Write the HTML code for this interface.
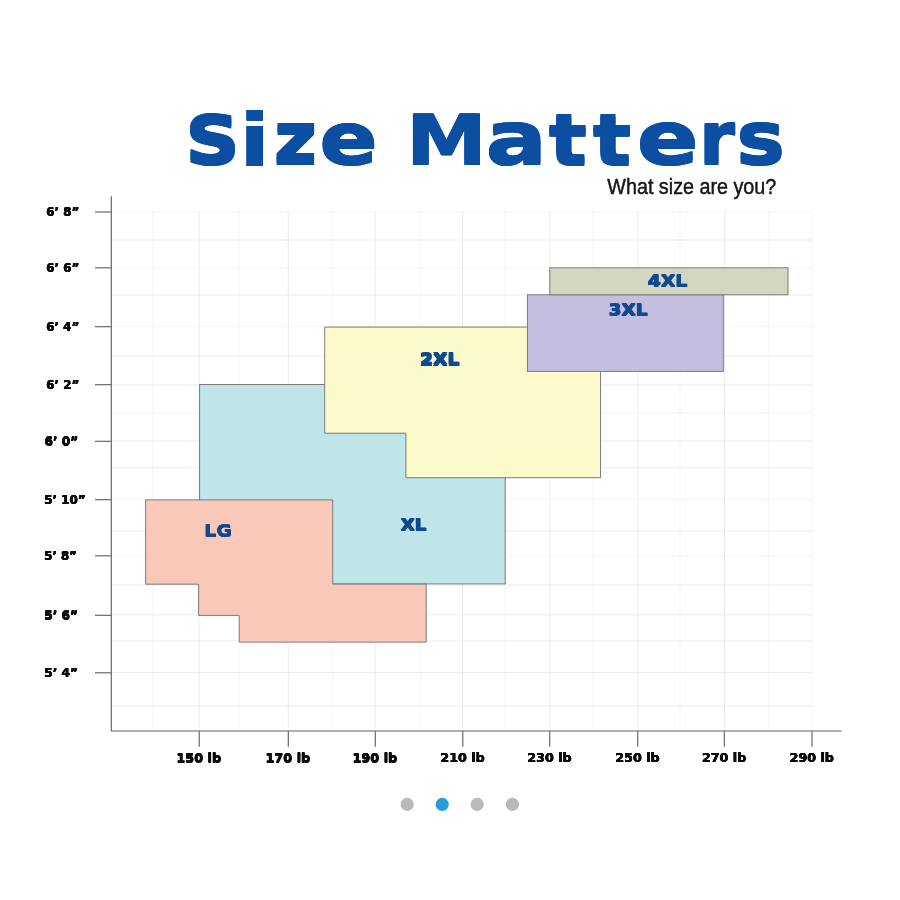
<!DOCTYPE html>
<html lang="en"><head><meta charset="utf-8"><title>Size Matters</title>
<style>
html,body{margin:0;padding:0;background:#fff}
body{width:900px;height:900px;overflow:hidden}
svg{display:block}
text{white-space:pre}
</style></head><body>
<svg width="900" height="900" viewBox="0 0 900 900">
<rect width="900" height="900" fill="#ffffff"/>
<text id="title" font-family='"DejaVu Sans", "Liberation Sans", sans-serif' font-weight="bold" fill="#0b4ea2"><tspan x="185.01" y="163.37" font-size="65.84" textLength="55.09" lengthAdjust="spacingAndGlyphs" style="text-shadow:-0.43px -1.50px 0 #0b4ea2,-0.43px 1.50px 0 #0b4ea2,0.43px -1.50px 0 #0b4ea2,0.43px 1.50px 0 #0b4ea2">S</tspan><tspan x="239.36" y="165.59" font-size="73.55" textLength="30.79" lengthAdjust="spacingAndGlyphs" style="text-shadow:-0.33px -0.01px 0 #0b4ea2,-0.33px 0.01px 0 #0b4ea2,0.33px -0.01px 0 #0b4ea2,0.33px 0.01px 0 #0b4ea2">i</tspan><tspan x="273.85" y="163.40" font-size="70.40" textLength="43.42" lengthAdjust="spacingAndGlyphs" style="text-shadow:-0.47px -1.60px 0 #0b4ea2,-0.47px 1.60px 0 #0b4ea2,0.47px -1.60px 0 #0b4ea2,0.47px 1.60px 0 #0b4ea2">z</tspan><tspan x="319.29" y="163.68" font-size="71.92" textLength="58.59" lengthAdjust="spacingAndGlyphs" style="text-shadow:-0.42px -0.90px 0 #0b4ea2,-0.42px 0.90px 0 #0b4ea2,0.42px -0.90px 0 #0b4ea2,0.42px 0.90px 0 #0b4ea2">e</tspan> <tspan x="406.15" y="164.90" font-size="69.41" textLength="80.73" lengthAdjust="spacingAndGlyphs" style="text-shadow:-0.51px -0.50px 0 #0b4ea2,-0.51px 0.50px 0 #0b4ea2,0.51px -0.50px 0 #0b4ea2,0.51px 0.50px 0 #0b4ea2">M</tspan><tspan x="485.48" y="164.05" font-size="73.84" textLength="61.60" lengthAdjust="spacingAndGlyphs" style="text-shadow:-0.40px -0.90px 0 #0b4ea2,-0.40px 0.90px 0 #0b4ea2,0.40px -0.90px 0 #0b4ea2,0.40px 0.90px 0 #0b4ea2">a</tspan><tspan x="548.85" y="164.50" font-size="70.07" textLength="37.97" lengthAdjust="spacingAndGlyphs" style="text-shadow:-0.53px -1.50px 0 #0b4ea2,-0.53px 1.50px 0 #0b4ea2,0.53px -1.50px 0 #0b4ea2,0.53px 1.50px 0 #0b4ea2">t</tspan><tspan x="592.94" y="164.50" font-size="70.07" textLength="38.29" lengthAdjust="spacingAndGlyphs" style="text-shadow:-0.52px -1.50px 0 #0b4ea2,-0.52px 1.50px 0 #0b4ea2,0.52px -1.50px 0 #0b4ea2,0.52px 1.50px 0 #0b4ea2">t</tspan><tspan x="636.55" y="164.07" font-size="72.62" textLength="62.40" lengthAdjust="spacingAndGlyphs" style="text-shadow:-0.39px -0.90px 0 #0b4ea2,-0.39px 0.90px 0 #0b4ea2,0.39px -0.90px 0 #0b4ea2,0.39px 0.90px 0 #0b4ea2">e</tspan><tspan x="699.22" y="164.20" font-size="72.14" textLength="35.69" lengthAdjust="spacingAndGlyphs" style="text-shadow:-0.60px -1.30px 0 #0b4ea2,-0.60px 1.30px 0 #0b4ea2,0.60px -1.30px 0 #0b4ea2,0.60px 1.30px 0 #0b4ea2">r</tspan><tspan x="736.25" y="164.07" font-size="72.97" textLength="48.83" lengthAdjust="spacingAndGlyphs" style="text-shadow:-0.44px -0.90px 0 #0b4ea2,-0.44px 0.90px 0 #0b4ea2,0.44px -0.90px 0 #0b4ea2,0.44px 0.90px 0 #0b4ea2">s</tspan></text>
<text transform="matrix(0.1976 0 0 0.2194 607.31 193.90)" font-family='"Liberation Sans", sans-serif' font-weight="normal" font-size="100" fill="#161616" stroke="#161616" stroke-width="0.45" vector-effect="non-scaling-stroke">What size are you?</text>
<g stroke="#f4f4f4" stroke-width="1"><line x1="111.3" y1="212.0" x2="812" y2="212.0"/><line x1="111.3" y1="267.8" x2="812" y2="267.8"/><line x1="111.3" y1="326.7" x2="812" y2="326.7"/><line x1="111.3" y1="412.8" x2="812" y2="412.8"/><line x1="111.3" y1="499.5" x2="812" y2="499.5"/><line x1="111.3" y1="556.0" x2="812" y2="556.0"/><line x1="152.7" y1="211" x2="152.7" y2="728"/><line x1="239.0" y1="211" x2="239.0" y2="728"/><line x1="332.7" y1="211" x2="332.7" y2="728"/><line x1="421.0" y1="211" x2="421.0" y2="728"/><line x1="505.0" y1="211" x2="505.0" y2="728"/><line x1="593.0" y1="211" x2="593.0" y2="728"/><line x1="680.0" y1="211" x2="680.0" y2="728"/><line x1="768.3" y1="211" x2="768.3" y2="728"/><line x1="811.7" y1="211" x2="811.7" y2="728"/></g>
<g stroke="#ebebeb" stroke-width="1"><line x1="111.3" y1="240.0" x2="812" y2="240.0"/><line x1="111.3" y1="295.0" x2="812" y2="295.0"/><line x1="111.3" y1="356.0" x2="812" y2="356.0"/><line x1="111.3" y1="385.0" x2="812" y2="385.0"/><line x1="111.3" y1="441.0" x2="812" y2="441.0"/><line x1="111.3" y1="467.7" x2="812" y2="467.7"/><line x1="111.3" y1="531.0" x2="812" y2="531.0"/><line x1="111.3" y1="585.0" x2="812" y2="585.0"/><line x1="111.3" y1="614.8" x2="812" y2="614.8"/><line x1="111.3" y1="641.0" x2="812" y2="641.0"/><line x1="111.3" y1="672.6" x2="812" y2="672.6"/><line x1="111.3" y1="706.0" x2="812" y2="706.0"/><line x1="199.0" y1="211" x2="199.0" y2="728"/><line x1="288.3" y1="211" x2="288.3" y2="728"/><line x1="375.0" y1="211" x2="375.0" y2="728"/><line x1="462.7" y1="211" x2="462.7" y2="728"/><line x1="550.0" y1="211" x2="550.0" y2="728"/><line x1="638.0" y1="211" x2="638.0" y2="728"/><line x1="724.6" y1="211" x2="724.6" y2="728"/></g>
<rect x="199.6" y="384.5" width="305.6" height="199.4" fill="#bfe5e8" stroke="#767676" stroke-width="0.95"/>
<polygon points="324.7,327.1 600.5,327.1 600.5,477.7 405.9,477.7 405.9,433.2 324.7,433.2" fill="#fcf9ca" stroke="#767676" stroke-width="0.95"/>
<polygon points="145.6,499.9 332.7,499.9 332.7,584.1 426.2,584.1 426.2,642.1 239.2,642.1 239.2,615.4 198.6,615.4 198.6,584.2 145.6,584.2" fill="#f9c8b9" stroke="#767676" stroke-width="0.95"/>
<rect x="527.4" y="294.8" width="195.9" height="76.6" fill="#c3bfe0" stroke="#767676" stroke-width="0.95"/>
<rect x="549.8" y="267.8" width="238.2" height="27.0" fill="#d3d6c0" stroke="#767676" stroke-width="0.95"/>
<text transform="matrix(0.1896 0 0 0.1600 204.26 536.27)" font-family='"DejaVu Sans", "Liberation Sans", sans-serif' font-weight="bold" font-size="100" fill="#0e4a91"  style="text-shadow:-0.19px -0.33px 0 #0e4a91,-0.19px 0.33px 0 #0e4a91,0.19px -0.33px 0 #0e4a91,0.19px 0.33px 0 #0e4a91">LG</text>
<text transform="matrix(0.1821 0 0 0.1550 400.70 530.40)" font-family='"DejaVu Sans", "Liberation Sans", sans-serif' font-weight="bold" font-size="100" fill="#0e4a91"  style="text-shadow:-0.42px -0.76px 0 #0e4a91,-0.42px 0.76px 0 #0e4a91,0.42px -0.76px 0 #0e4a91,0.42px 0.76px 0 #0e4a91">XL</text>
<text transform="matrix(0.1877 0 0 0.1549 419.97 365.00)" font-family='"DejaVu Sans", "Liberation Sans", sans-serif' font-weight="bold" font-size="100" fill="#0e4a91"  style="text-shadow:-0.41px -0.78px 0 #0e4a91,-0.41px 0.78px 0 #0e4a91,0.41px -0.78px 0 #0e4a91,0.41px 0.78px 0 #0e4a91">2XL</text>
<text transform="matrix(0.1856 0 0 0.1520 608.61 315.28)" font-family='"DejaVu Sans", "Liberation Sans", sans-serif' font-weight="bold" font-size="100" fill="#0e4a91"  style="text-shadow:-0.41px -0.78px 0 #0e4a91,-0.41px 0.78px 0 #0e4a91,0.41px -0.78px 0 #0e4a91,0.41px 0.78px 0 #0e4a91">3XL</text>
<text transform="matrix(0.1880 0 0 0.1605 647.81 286.60)" font-family='"DejaVu Sans", "Liberation Sans", sans-serif' font-weight="bold" font-size="100" fill="#0e4a91"  style="text-shadow:-0.42px -0.76px 0 #0e4a91,-0.42px 0.76px 0 #0e4a91,0.42px -0.76px 0 #0e4a91,0.42px 0.76px 0 #0e4a91">4XL</text>
<g stroke="#626262" stroke-width="1.15" fill="none">
<path d="M111.3 196.3V731H841.7"/>
<line x1="95" y1="212" x2="111.3" y2="212"/>
<line x1="95" y1="267.8" x2="111.3" y2="267.8"/>
<line x1="95" y1="326.7" x2="111.3" y2="326.7"/>
<line x1="95" y1="384.7" x2="111.3" y2="384.7"/>
<line x1="95" y1="441.3" x2="111.3" y2="441.3"/>
<line x1="95" y1="499.7" x2="111.3" y2="499.7"/>
<line x1="95" y1="555.8" x2="111.3" y2="555.8"/>
<line x1="95" y1="615.3" x2="111.3" y2="615.3"/>
<line x1="95" y1="672.8" x2="111.3" y2="672.8"/>
<line x1="199.2" y1="731" x2="199.2" y2="746.8"/>
<line x1="288.3" y1="731" x2="288.3" y2="746.8"/>
<line x1="375.3" y1="731" x2="375.3" y2="746.8"/>
<line x1="462.8" y1="731" x2="462.8" y2="746.8"/>
<line x1="549.7" y1="731" x2="549.7" y2="746.8"/>
<line x1="637.7" y1="731" x2="637.7" y2="746.8"/>
<line x1="724.3" y1="731" x2="724.3" y2="746.8"/>
<line x1="812" y1="731" x2="812" y2="746.8"/>
</g>
<text transform="matrix(0.1195 0 0 0.1139 46.16 216.20)" font-family='"DejaVu Sans", "Liberation Sans", sans-serif' font-weight="bold" font-size="100" fill="#0a0a0a"  style="text-shadow:-0.20px -0.20px 0 #0a0a0a,-0.20px 0.20px 0 #0a0a0a,0.20px -0.20px 0 #0a0a0a,0.20px 0.20px 0 #0a0a0a">6’ 8”</text>
<text transform="matrix(0.1195 0 0 0.1139 46.16 272.00)" font-family='"DejaVu Sans", "Liberation Sans", sans-serif' font-weight="bold" font-size="100" fill="#0a0a0a"  style="text-shadow:-0.20px -0.20px 0 #0a0a0a,-0.20px 0.20px 0 #0a0a0a,0.20px -0.20px 0 #0a0a0a,0.20px 0.20px 0 #0a0a0a">6’ 6”</text>
<text transform="matrix(0.1195 0 0 0.1139 46.16 330.90)" font-family='"DejaVu Sans", "Liberation Sans", sans-serif' font-weight="bold" font-size="100" fill="#0a0a0a"  style="text-shadow:-0.20px -0.20px 0 #0a0a0a,-0.20px 0.20px 0 #0a0a0a,0.20px -0.20px 0 #0a0a0a,0.20px 0.20px 0 #0a0a0a">6’ 4”</text>
<text transform="matrix(0.1195 0 0 0.1139 46.16 388.90)" font-family='"DejaVu Sans", "Liberation Sans", sans-serif' font-weight="bold" font-size="100" fill="#0a0a0a"  style="text-shadow:-0.20px -0.20px 0 #0a0a0a,-0.20px 0.20px 0 #0a0a0a,0.20px -0.20px 0 #0a0a0a,0.20px 0.20px 0 #0a0a0a">6’ 2”</text>
<text transform="matrix(0.1218 0 0 0.1139 44.44 445.50)" font-family='"DejaVu Sans", "Liberation Sans", sans-serif' font-weight="bold" font-size="100" fill="#0a0a0a"  style="text-shadow:-0.19px -0.21px 0 #0a0a0a,-0.19px 0.21px 0 #0a0a0a,0.19px -0.21px 0 #0a0a0a,0.19px 0.21px 0 #0a0a0a">6’ 0”</text>
<text transform="matrix(0.1194 0 0 0.1139 44.28 503.90)" font-family='"DejaVu Sans", "Liberation Sans", sans-serif' font-weight="bold" font-size="100" fill="#0a0a0a"  style="text-shadow:-0.20px -0.20px 0 #0a0a0a,-0.20px 0.20px 0 #0a0a0a,0.20px -0.20px 0 #0a0a0a,0.20px 0.20px 0 #0a0a0a">5’ 10”</text>
<text transform="matrix(0.1171 0 0 0.1139 44.30 560.00)" font-family='"DejaVu Sans", "Liberation Sans", sans-serif' font-weight="bold" font-size="100" fill="#0a0a0a"  style="text-shadow:-0.20px -0.20px 0 #0a0a0a,-0.20px 0.20px 0 #0a0a0a,0.20px -0.20px 0 #0a0a0a,0.20px 0.20px 0 #0a0a0a">5’ 8”</text>
<text transform="matrix(0.1217 0 0 0.1139 44.26 619.50)" font-family='"DejaVu Sans", "Liberation Sans", sans-serif' font-weight="bold" font-size="100" fill="#0a0a0a"  style="text-shadow:-0.19px -0.21px 0 #0a0a0a,-0.19px 0.21px 0 #0a0a0a,0.19px -0.21px 0 #0a0a0a,0.19px 0.21px 0 #0a0a0a">5’ 6”</text>
<text transform="matrix(0.1217 0 0 0.1139 44.26 677.00)" font-family='"DejaVu Sans", "Liberation Sans", sans-serif' font-weight="bold" font-size="100" fill="#0a0a0a"  style="text-shadow:-0.19px -0.21px 0 #0a0a0a,-0.19px 0.21px 0 #0a0a0a,0.19px -0.21px 0 #0a0a0a,0.19px 0.21px 0 #0a0a0a">5’ 4”</text>
<text transform="matrix(0.1283 0 0 0.1221 176.35 762.30)" font-family='"DejaVu Sans", "Liberation Sans", sans-serif' font-weight="bold" font-size="100" fill="#0a0a0a"  style="text-shadow:-0.20px -0.21px 0 #0a0a0a,-0.20px 0.21px 0 #0a0a0a,0.20px -0.21px 0 #0a0a0a,0.20px 0.21px 0 #0a0a0a">150 lb</text>
<text transform="matrix(0.1283 0 0 0.1221 265.45 762.30)" font-family='"DejaVu Sans", "Liberation Sans", sans-serif' font-weight="bold" font-size="100" fill="#0a0a0a"  style="text-shadow:-0.20px -0.21px 0 #0a0a0a,-0.20px 0.21px 0 #0a0a0a,0.20px -0.21px 0 #0a0a0a,0.20px 0.21px 0 #0a0a0a">170 lb</text>
<text transform="matrix(0.1283 0 0 0.1221 352.45 762.30)" font-family='"DejaVu Sans", "Liberation Sans", sans-serif' font-weight="bold" font-size="100" fill="#0a0a0a"  style="text-shadow:-0.20px -0.21px 0 #0a0a0a,-0.20px 0.21px 0 #0a0a0a,0.20px -0.21px 0 #0a0a0a,0.20px 0.21px 0 #0a0a0a">190 lb</text>
<text transform="matrix(0.1270 0 0 0.1221 440.40 762.30)" font-family='"DejaVu Sans", "Liberation Sans", sans-serif' font-weight="bold" font-size="100" fill="#0a0a0a"  style="text-shadow:-0.20px -0.20px 0 #0a0a0a,-0.20px 0.20px 0 #0a0a0a,0.20px -0.20px 0 #0a0a0a,0.20px 0.20px 0 #0a0a0a">210 lb</text>
<text transform="matrix(0.1270 0 0 0.1221 527.30 762.30)" font-family='"DejaVu Sans", "Liberation Sans", sans-serif' font-weight="bold" font-size="100" fill="#0a0a0a"  style="text-shadow:-0.20px -0.20px 0 #0a0a0a,-0.20px 0.20px 0 #0a0a0a,0.20px -0.20px 0 #0a0a0a,0.20px 0.20px 0 #0a0a0a">230 lb</text>
<text transform="matrix(0.1270 0 0 0.1221 615.30 762.30)" font-family='"DejaVu Sans", "Liberation Sans", sans-serif' font-weight="bold" font-size="100" fill="#0a0a0a"  style="text-shadow:-0.20px -0.20px 0 #0a0a0a,-0.20px 0.20px 0 #0a0a0a,0.20px -0.20px 0 #0a0a0a,0.20px 0.20px 0 #0a0a0a">250 lb</text>
<text transform="matrix(0.1270 0 0 0.1221 701.90 762.30)" font-family='"DejaVu Sans", "Liberation Sans", sans-serif' font-weight="bold" font-size="100" fill="#0a0a0a"  style="text-shadow:-0.20px -0.20px 0 #0a0a0a,-0.20px 0.20px 0 #0a0a0a,0.20px -0.20px 0 #0a0a0a,0.20px 0.20px 0 #0a0a0a">270 lb</text>
<text transform="matrix(0.1270 0 0 0.1221 789.60 762.30)" font-family='"DejaVu Sans", "Liberation Sans", sans-serif' font-weight="bold" font-size="100" fill="#0a0a0a"  style="text-shadow:-0.20px -0.20px 0 #0a0a0a,-0.20px 0.20px 0 #0a0a0a,0.20px -0.20px 0 #0a0a0a,0.20px 0.20px 0 #0a0a0a">290 lb</text>
<circle cx="407.2" cy="804.4" r="6.6" fill="#b9b9b9"/>
<circle cx="442.2" cy="804.4" r="6.6" fill="#259fdc"/>
<circle cx="477.2" cy="804.4" r="6.6" fill="#b9b9b9"/>
<circle cx="512.4" cy="804.4" r="6.6" fill="#b9b9b9"/>
</svg>
</body></html>
